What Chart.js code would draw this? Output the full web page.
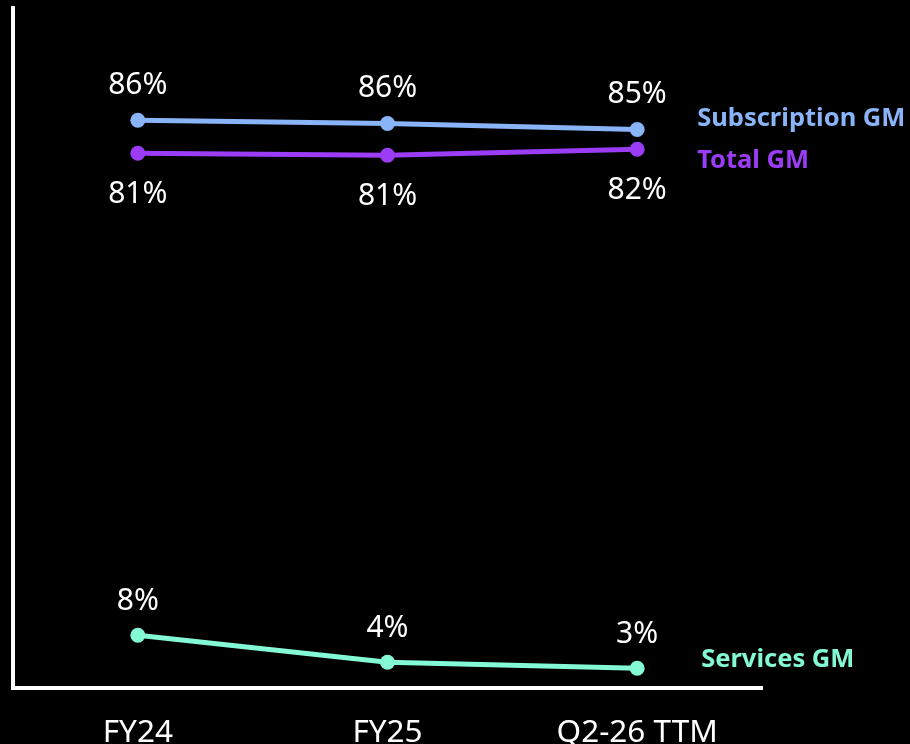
<!DOCTYPE html>
<html lang="en">
<head>
    <meta charset="utf-8">
    <title>Gross Margin Chart</title>
    <script src="https://cdn.jsdelivr.net/npm/chart.js@4.4.1/dist/chart.umd.min.js"></script>
    <style>
        body {
            margin: 0;
            padding: 0;
            background-color: #000;
        }

        #chart-container {
            width: 910px;
            height: 744px;
        }
    </style>
</head>
<body>
    <div id="chart-container">
        <canvas id="gmChart"></canvas>
    </div>

    <script>
        const periods = ['FY24', 'FY25', 'Q2-26 TTM'];
        const subscriptionGM = [86.0, 85.5, 84.6];
        const totalGM = [81.0, 80.7, 81.6];
        const servicesGM = [8.0, 3.9, 3.0];

        const FONT = "'Noto Sans', 'Open Sans', sans-serif";

        // value labels + series name at the right end
        const labelPlugin = {
            id: 'lineLabels',
            afterDatasetsDraw(chart) {
                const ctx = chart.ctx;
                ctx.save();
                chart.data.datasets.forEach((ds, i) => {
                    const meta = chart.getDatasetMeta(i);
                    ctx.textAlign = 'center';
                    ctx.textBaseline = 'middle';
                    ctx.font = '400 30px ' + FONT;
                    ctx.fillStyle = '#ffffff';
                    meta.data.forEach((pt, j) => {
                        const txt = Math.round(ds.data[j]) + '%';
                        ctx.fillText(txt, pt.x, pt.y + ds.valueOffset);
                    });
                    const last = meta.data[meta.data.length - 1];
                    ctx.textAlign = 'left';
                    ctx.font = '700 25.5px ' + FONT;
                    ctx.fillStyle = ds.borderColor;
                    ctx.fillText(ds.label, last.x + ds.nameDx, last.y + ds.nameDy);
                });
                ctx.restore();
            }
        };

        const ctx = document.getElementById('gmChart').getContext('2d');

        const gmChart = new Chart(ctx, {
            type: 'line',
            data: {
                labels: periods,
                datasets: [
                    {
                        label: 'Subscription GM',
                        data: subscriptionGM,
                        borderColor: '#8ab4f8',
                        backgroundColor: '#8ab4f8',
                        valueOffset: -35,
                        nameDx: 60,
                        nameDy: -11
                    },
                    {
                        label: 'Total GM',
                        data: totalGM,
                        borderColor: '#9b3cf6',
                        backgroundColor: '#9b3cf6',
                        valueOffset: 41,
                        nameDx: 60,
                        nameDy: 11
                    },
                    {
                        label: 'Services GM',
                        data: servicesGM,
                        borderColor: '#84f9d5',
                        backgroundColor: '#84f9d5',
                        valueOffset: -34,
                        nameDx: 64,
                        nameDy: -8
                    }
                ]
            },
            options: {
                responsive: true,
                maintainAspectRatio: false,
                animation: false,
                clip: false,
                elements: {
                    line: { borderWidth: 5, tension: 0 },
                    point: { radius: 7.5, borderWidth: 0, hoverRadius: 7.5 }
                },
                layout: {
                    padding: { left: 13, right: 148, top: 8, bottom: 0 }
                },
                plugins: {
                    legend: { display: false },
                    tooltip: { enabled: false }
                },
                scales: {
                    x: {
                        offset: true,
                        grid: { display: false, drawTicks: false },
                        border: { display: true, color: '#ffffff', width: 4 },
                        ticks: {
                            color: '#ffffff',
                            padding: 26,
                            font: { family: FONT, size: 31.5 },
                            maxRotation: 0
                        },
                        afterFit(axis) { axis.height = 56; }
                    },
                    y: {
                        min: 0,
                        max: 103,
                        grid: { display: false, drawTicks: false },
                        border: { display: true, color: '#ffffff', width: 4 },
                        ticks: { display: false },
                        afterFit(axis) { axis.width = 0; }
                    }
                }
            },
            plugins: [labelPlugin]
        });
    </script>
</body>
</html>
